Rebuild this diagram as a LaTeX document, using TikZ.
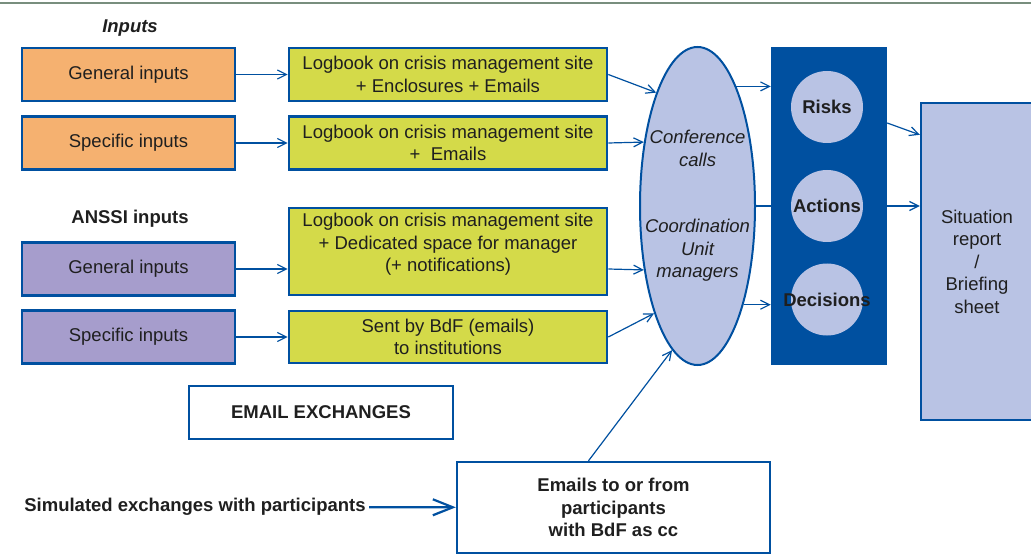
\documentclass[tikz,border=0pt]{standalone}
\usepackage{fontspec}
\setmainfont{Liberation Sans}
\usetikzlibrary{math,arrows.meta,shapes.geometric}

\definecolor{bdfblue}{RGB}{0,80,160}
\definecolor{ruleline}{RGB}{120,142,126}
\definecolor{orangefill}{RGB}{245,177,112}
\definecolor{purplefill}{RGB}{166,157,204}
\definecolor{greenfill}{RGB}{212,218,73}
\definecolor{lavender}{RGB}{185,195,228}
\newcommand{\figfont}{\fontsize{18.5}{22.5}\selectfont}

\begin{document}
\begin{tikzpicture}[x=1pt, y=-1pt,
  every node/.style={font=\figfont, text=black!88},
  box/.style={draw=bdfblue, line width=2.6pt, minimum height=53pt, align=center, inner sep=0pt},
  inbox/.style={box, fill=orangefill, minimum width=213pt},
  ansbox/.style={box, fill=purplefill, minimum width=213pt},
  logbox/.style={box, fill=greenfill, minimum width=318pt},
  head/.style={font=\figfont\bfseries},
  dot/.style={circle, fill=lavender, minimum size=72pt, inner sep=0pt, font=\figfont\bfseries},
  link/.style={draw=bdfblue, line width=1.2pt, -{Straight Barb[length=9pt,width=9pt]}}]
  \tikzmath{%
    \inx = 128.5; \logx = 448; \ovx = 697.5; \colx = 829; \dotx = 827; \sitx = 977;
    \ya = 74.5; \yb = 143; \yc = 269; \yd = 337; \ymid = 206;
  }
  \useasboundingbox (0,0) rectangle (1031,556);
  \draw[ruleline, line width=1.6pt] (0,3) -- (1031,3);

  % inputs
  \node[head, font=\figfont\bfseries\itshape] (inputs) at (130,28) {Inputs};
  \node[inbox] (ina) at (\inx,\ya) {General inputs};
  \node[inbox] (inb) at (\inx,\yb) {Specific inputs};
  \node[head] (anssi) at (130,219) {ANSSI inputs};
  \node[ansbox] (ansa) at (\inx,\yc) {General inputs};
  \node[ansbox] (ansb) at (\inx,\yd) {Specific inputs};

  % logbooks
  \node[logbox] (loga) at (\logx,\ya) {Logbook on crisis management site\\+ Enclosures + Emails};
  \node[logbox] (logb) at (\logx,\yb) {Logbook on crisis management site\\+~~Emails};
  \node[logbox, minimum height=87pt, text depth=18pt] (logc) at (\logx,251.5) {Logbook on crisis management site\\+ Dedicated space for manager\\(+ notifications)};
  \node[logbox, minimum height=52pt] (logd) at (\logx,\yd) {Sent by BdF (emails)\\to institutions};

  % coordination
  \node[ellipse, draw=bdfblue, line width=2pt, fill=lavender, minimum width=115pt, minimum height=318pt, inner sep=0pt] (ov) at (\ovx,\ymid) {};
  \node[align=center, font=\figfont\itshape, inner sep=0pt] (ovtext) at (ov.center) {Conference\\calls\\[44pt]Coordination\\Unit\\managers};

  \node[fill=bdfblue, minimum width=116pt, minimum height=318pt, inner sep=0pt] (col) at (\colx,\ymid) {};
  \node[dot] (risk) at (\dotx,107) {\makebox[0pt]{Risks}};
  \node[dot] (act) at (\dotx,\ymid) {\makebox[0pt]{Actions}};
  \node[dot] (dec) at (\dotx,299.5) {\makebox[0pt]{Decisions}};

  \node[box, fill=lavender, line width=2.4pt, minimum width=112pt, minimum height=317pt] (sit) at (\sitx,261.5) {Situation\\report\\/\\Briefing\\sheet};

  % emails
  \node[draw=bdfblue, line width=1.3pt, minimum width=264pt, minimum height=53pt, head] (xch) at (321,412.5) {EMAIL EXCHANGES};
  \node[box, head, line width=2.4pt, minimum width=313pt, minimum height=91pt] (mail) at (613.5,507.5) {Emails to or from\\participants\\with BdF as cc};
  \node[head] (sim) at (195,507) {Simulated exchanges with participants};

  \draw[link] (ina) -- (loga);
  \draw[link] (inb) -- (logb);
  \draw[link] (ansa) -- (ansa -| logc.west);
  \draw[link] (ansb) -- (logd);

  \draw[link] (loga.east) -- (ov.110);
  \draw[link] (logb.east) -- (ov.130);
  \draw[link] (logc.east |- ansa) -- (ov.230);
  \draw[link] (logd.east) -- (ov.248);

  \draw[link] (ov.72) -- (ov.72 -| col.west);
  \draw[link] (ov.east) -- (act.west);
  \draw[link] (ov.295) -- (ov.295 -| col.west);

  \draw[link] ([yshift=83pt]col.east) -- ([yshift=-33pt]sit.north west);
  \draw[link] (col.east) -- (col.east -| sit.west);

  \draw[link] ([xshift=-25pt]mail.north) -- (ov.260);
  \draw[link, line width=2.2pt, -{Straight Barb[length=20pt,width=16pt]}] (sim) -- (mail);
\end{tikzpicture}
\end{document}
